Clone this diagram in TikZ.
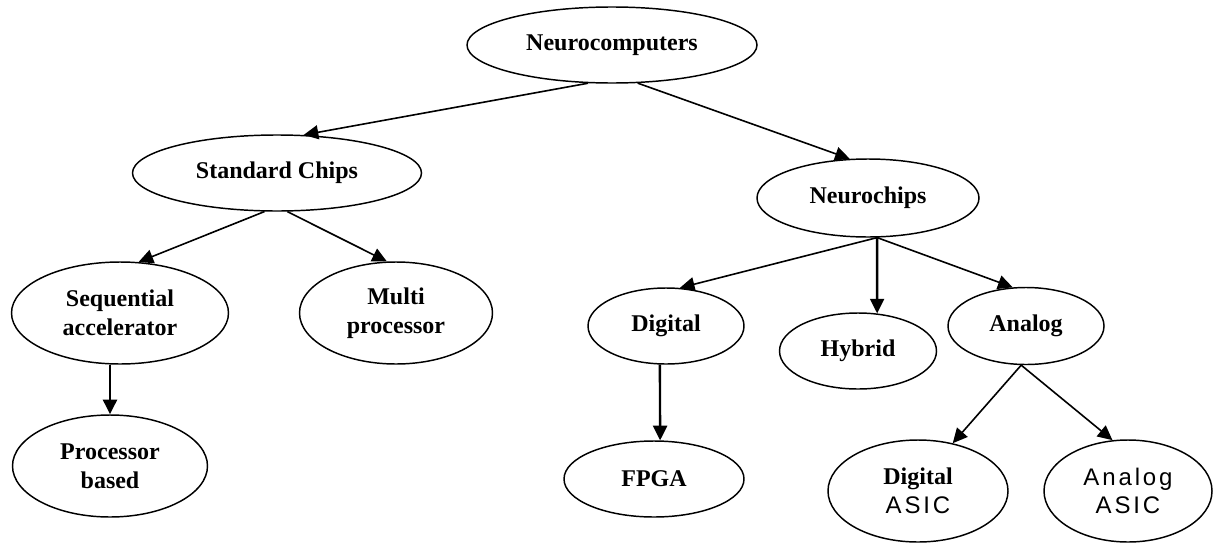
\documentclass[tikz,border=0pt]{standalone}
\usepackage{fontspec}
\setmainfont{Liberation Serif}
\newfontfamily\asicfont[LetterSpace=12]{Liberation Sans}
\usetikzlibrary{shapes.geometric,arrows.meta}
\tikzset{
  chip/.style={ellipse, draw, line width=1.1pt, inner sep=0pt, align=center,
    font=\fontsize{18}{21.5}\selectfont\bfseries},
  size/.style 2 args={minimum width=#1*0.75pt, minimum height=#2*0.75pt},
  arr/.style={-{Triangle[length=11pt,width=10.5pt]}, line width=1.2pt},
  down/.style={arr, line width=1.8pt}
}

\begin{document}
\begin{tikzpicture}[x=0.75pt,y=-0.75pt]
      \useasboundingbox (0,0) rectangle (1213,543);
      \node[chip, size={290}{76}] (neuro) at (612,45) {Neurocomputers};
      \node[chip, size={289}{76}] (std) at (277,173) {Standard Chips};
      \node[chip, size={222}{78}] (nchips) at (868,198) {Neurochips};
      \node[chip, size={217}{102}] (seq) at (120,313) {Sequential\\accelerator};
      \node[chip, size={193}{102}] (multi) at (396,313) {Multi\\processor};
      \node[chip, size={195}{102}] (proc) at (110,466) {Processor\\based};
      \node[chip, size={156}{76}] (dig) at (666,326) {Digital};
      \node[chip, size={157}{76}] (hyb) at (858,351) {Hybrid};
      \node[chip, size={156}{77}] (ana) at (1026,326) {Analog};
      \node[chip, size={180}{76}] (fpga) at (654,479) {FPGA};
      \node[chip, size={180}{102}] (dasic) at (918,491) {Digital\\\asicfont\mdseries ASIC};
      \node[chip, size={168}{102}] (aasic) at (1128,491) {\asicfont\mdseries Analog\\\asicfont\mdseries ASIC};
      \foreach \a/\b in {neuro.238/std.55, neuro.304/nchips.115,
        std.252/seq.70, std.285/multi.100,
        nchips.283/dig.70, nchips.283/ana.109,
        ana.263/dasic.54, ana.263/aasic.107} {
	\draw[arr] (\a) -- (\b);
      };
      \foreach \a/\b in {nchips.283/hyb.63, dig.261/fpga.81} {
	\draw[down] (\a) -- (\b);
      };
      \draw[down] (proc.north |- seq.south) -- (proc.north);
    \end{tikzpicture}
\end{document}
